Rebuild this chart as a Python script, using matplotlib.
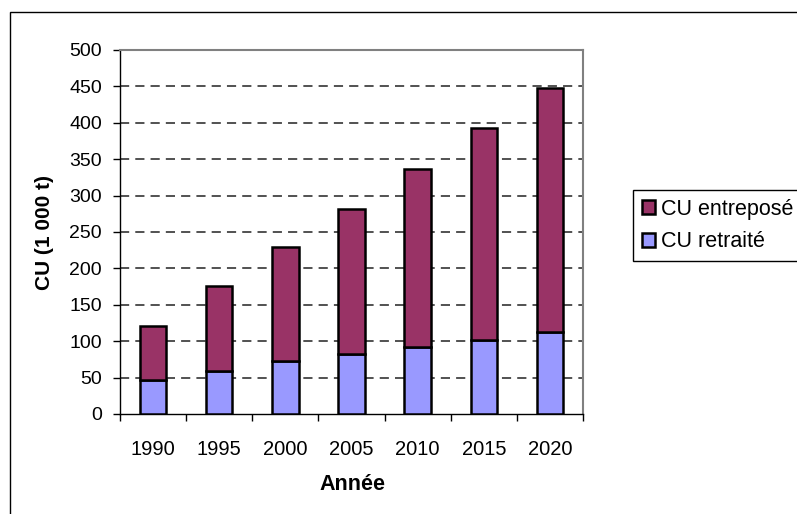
import matplotlib
matplotlib.use("Agg")
import matplotlib.pyplot as plt
import numpy as np
from matplotlib.patches import Rectangle

# data (1 000 t)
years = ["1990", "1995", "2000", "2005", "2010", "2015", "2020"]
retraite = [47, 59, 73, 82, 92, 102, 113]
entrepose = [74, 117, 156, 200, 244, 291, 335]

plt.rcParams['font.family'] = ['Liberation Sans', 'DejaVu Sans']
plt.rcParams['font.size'] = 14

W, H = 797, 514
fig = plt.figure(figsize=(W / 100, H / 100), dpi=100)
ax = fig.add_axes([120 / W, 1 - 414 / H, (583 - 120) / W, (414 - 50) / H])

x = np.arange(len(years))
ax.bar(x, retraite, width=0.4, color="#9999FF", edgecolor="black",
       linewidth=1.8, label="CU retraité", zorder=3)
ax.bar(x, entrepose, width=0.4, bottom=retraite, color="#993366",
       edgecolor="black", linewidth=1.8, label="CU entreposé", zorder=3)

ax.set_xlim(-0.5, len(years) - 0.5)
ax.set_ylim(0, 500)
ax.set_yticks(np.arange(0, 501, 50))
ax.set_xticks(x)
ax.set_xticklabels(years, fontsize=14.5)
ax.set_xticks(np.arange(-0.5, len(years)), minor=True)
ax.tick_params(axis='x', which='major', length=0, pad=19)
ax.tick_params(axis='x', which='minor', length=5, width=1, direction='out')
ax.tick_params(axis='y', length=5, width=1, pad=8)

for v in np.arange(50, 500, 50):
    ax.axhline(v, color="#222222", linewidth=1.1, linestyle=(0, (6, 4)), zorder=1)

for s in ['top', 'right']:
    ax.spines[s].set_color("#808080")
    ax.spines[s].set_linewidth(1.5)
for s in ['left', 'bottom']:
    ax.spines[s].set_color("black")
    ax.spines[s].set_linewidth(1)

fig.text(352 / W, 1 - 484 / H, "Année", ha='center', va='center',
         fontweight='bold', fontsize=15.5)
fig.text(45 / W, 1 - 232 / H, "CU (1 000 t)", ha='center', va='center',
         rotation=90, fontweight='bold', fontsize=15)

handles, labels = ax.get_legend_handles_labels()
leg = fig.legend(handles[::-1], labels[::-1], loc='upper left',
                 bbox_to_anchor=(633 / W, 1 - 190 / H), borderaxespad=0,
                 fancybox=False, edgecolor='black', framealpha=1,
                 handlelength=0.6, handleheight=0.6, handletextpad=0.3,
                 labelspacing=0.55, borderpad=0.4, fontsize=15.5)
leg.get_frame().set_linewidth(1)

# outer chart frame (cropped on right and bottom)
fig.patches.append(Rectangle((10 / W, -0.1), 1.2, 1.1 - 12 / H,
                             transform=fig.transFigure, fill=False,
                             edgecolor='black', linewidth=1))

fig.savefig("out.png", dpi=100)
